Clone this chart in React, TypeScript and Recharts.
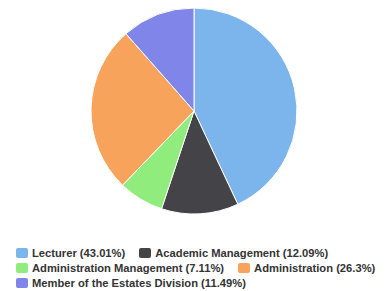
import { Cell, Legend, Pie, PieChart } from "recharts";

const names = [
  "Lecturer",
  "Academic Management",
  "Administration Management",
  "Administration",
  "Member of the Estates Division",
];
const shares = [43.01, 12.09, 7.11, 26.3, 11.49];
const COLORS = ["#7cb5ec", "#434348", "#90ed7d", "#f7a35c", "#8085e9"];

const data = names.map((name, i) => ({ name, value: shares[i] }));

const renderLegend = () => (
  <div style={{ display: "flex", flexWrap: "wrap", columnGap: 14, width: 371 }}>
    {data.map((d, i) => (
      <div
        key={d.name}
        style={{
          display: "flex",
          alignItems: "center",
          height: 15,
          fontFamily: "'Liberation Sans', Arial, sans-serif",
          fontWeight: "bold",
          fontSize: 11.2,
          color: "#333333",
          whiteSpace: "nowrap",
        }}
      >
        <span
          style={{
            display: "inline-block",
            width: 12,
            height: 10,
            borderRadius: 2,
            background: COLORS[i],
            marginRight: 4,
          }}
        />
        {`${d.name} (${d.value}%)`}
      </div>
    ))}
  </div>
);

export default function App() {
  return (
    <PieChart width={379} height={283}>
      <Pie
        data={data}
        dataKey="value"
        cx={181}
        cy={98}
        outerRadius={103}
        startAngle={90}
        endAngle={-270}
        stroke="#ffffff"
        strokeWidth={1}
        isAnimationActive={false}
      >
        {data.map((entry, index) => (
          <Cell key={`cell-${index}`} fill={COLORS[index % COLORS.length]} />
        ))}
      </Pie>
      <Legend
        content={renderLegend}
        wrapperStyle={{ left: 8, top: 237, width: 371 }}
      />
    </PieChart>
  );
}
